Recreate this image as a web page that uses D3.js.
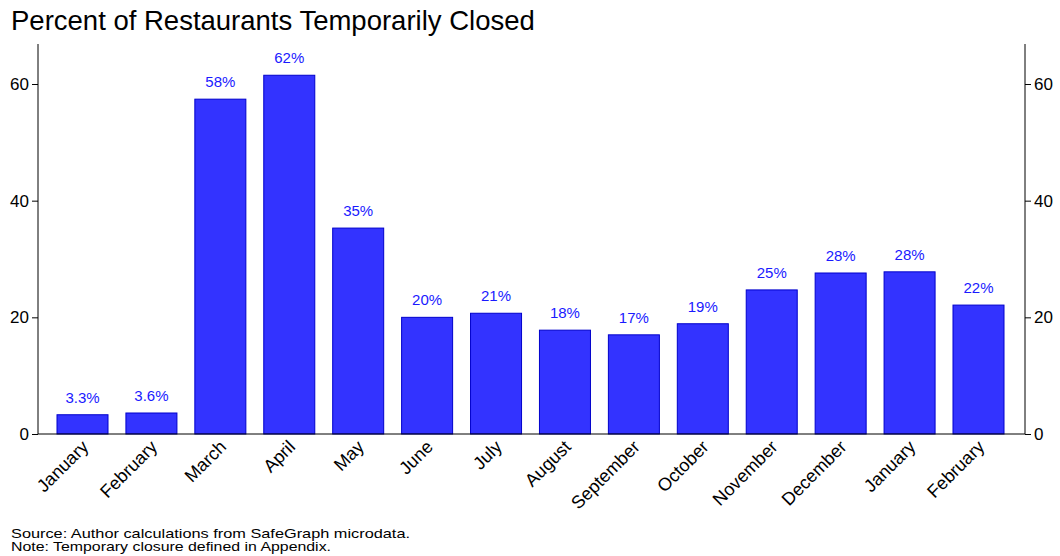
<!DOCTYPE html>
<meta charset="utf-8">
<style>
body { margin: 0; background: #fff; }
text { font-family: "Liberation Sans", Arial, sans-serif; }
</style>
<script src="https://cdn.jsdelivr.net/npm/d3@7"></script>
<body></body>
<script>
var months = ['January','February','March','April','May','June','July','August','September','October','November','December','January','February'];
var values = [3.3, 3.6, 57.4, 61.5, 35.3, 20.0, 20.7, 17.8, 17.0, 18.9, 24.7, 27.6, 27.8, 22.1];
var labels = ['3.3%','3.6%','58%','62%','35%','20%','21%','18%','17%','19%','25%','28%','28%','22%'];
var yTicks = [0, 20, 40, 60];

var width = 1060, height = 556;
var plotLeft = 38, plotRight = 1025, plotTop = 44, plotBottom = 434;

var svg = d3.select('body').append('svg')
	.attr('width', width)
	.attr('height', height);

var x = d3.scaleBand()
	.domain(d3.range(months.length))
	.range([57, 1004])
	.paddingInner(0.26)
	.paddingOuter(0);

var y = d3.scaleLinear()
	.domain([0, 60])
	.range([plotBottom, 84]);

svg.append('text')
	.attr('x', 11).attr('y', 30)
	.attr('font-size', 27.5)
	.text('Percent of Restaurants Temporarily Closed');

//bars
svg.selectAll('rect.bar')
	.data(values)
	.enter().append('rect')
	.attr('class', 'bar')
	.attr('x', (d, i) => x(i))
	.attr('width', x.bandwidth())
	.attr('y', d => y(d))
	.attr('height', d => y(0) - y(d))
	.attr('fill', '#3333ff')
	.attr('stroke', '#0000cc')
	.attr('stroke-width', 1);

svg.selectAll('text.lab')
	.data(values)
	.enter().append('text')
	.attr('class', 'lab')
	.attr('x', (d, i) => x(i) + x.bandwidth() / 2)
	.attr('y', d => y(d) - 12)
	.attr('text-anchor', 'middle')
	.attr('font-size', 15)
	.attr('fill', '#1a1aff')
	.text((d, i) => labels[i]);

//axes
var yl = svg.append('g')
	.attr('transform', 'translate(' + plotLeft + ',0)')
	.call(d3.axisLeft(y).tickValues(yTicks).tickSize(6).tickSizeOuter(0));
var yr = svg.append('g')
	.attr('transform', 'translate(' + plotRight + ',0)')
	.call(d3.axisRight(y).tickValues(yTicks).tickSize(6).tickSizeOuter(0));
[yl, yr].forEach(g => {
	g.select('.domain').remove();
	g.selectAll('text').attr('font-size', 17).attr('font-family', '"Liberation Sans", Arial, sans-serif');
});
svg.append('line').attr('x1', plotLeft).attr('x2', plotLeft).attr('y1', plotTop).attr('y2', plotBottom).attr('stroke', '#000');
svg.append('line').attr('x1', plotRight).attr('x2', plotRight).attr('y1', plotTop).attr('y2', plotBottom).attr('stroke', '#000');
svg.append('line').attr('x1', plotLeft).attr('x2', plotRight).attr('y1', plotBottom).attr('y2', plotBottom).attr('stroke', '#000');

svg.selectAll('text.month')
	.data(months)
	.enter().append('text')
	.attr('class', 'month')
	.attr('font-size', 18)
	.attr('text-anchor', 'end')
	.attr('transform', (d, i) => 'translate(' + (x(i) + x.bandwidth() / 2 + 7) + ',' + (plotBottom + 14) + ') rotate(-45)')
	.text(d => d);

svg.append('text').attr('x', 11).attr('y', 538).attr('font-size', 13.5)
	.attr('textLength', 399).attr('lengthAdjust', 'spacingAndGlyphs')
	.text('Source: Author calculations from SafeGraph microdata.');
svg.append('text').attr('x', 11).attr('y', 551).attr('font-size', 13.5)
	.attr('textLength', 320).attr('lengthAdjust', 'spacingAndGlyphs')
	.text('Note: Temporary closure defined in Appendix.');
</script>
